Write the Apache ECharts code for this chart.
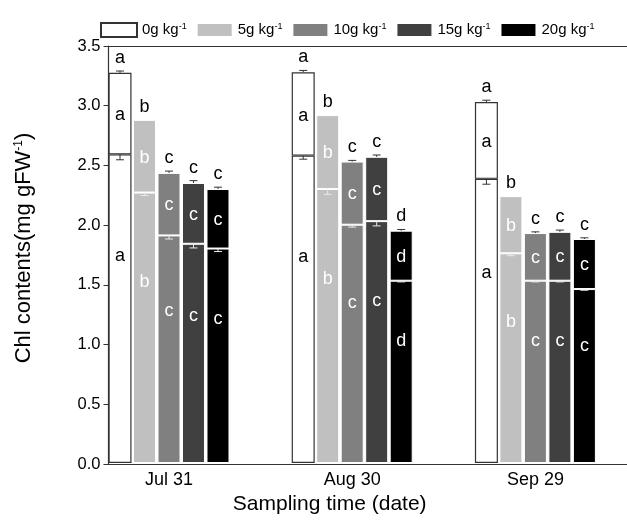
<!DOCTYPE html>
<html><head><meta charset="utf-8">
<script src="https://cdn.jsdelivr.net/npm/echarts@6/dist/echarts.min.js"></script>
<style>html,body{margin:0;padding:0;background:#fff}#c{width:627px;height:520px}</style>
</head><body><div id="c"></div>
<script>
const categories = ['Jul 31', 'Aug 30', 'Sep 29'];
const treatments = ['0g kg', '5g kg', '10g kg', '15g kg', '20g kg'];
const colors = ['#ffffff', '#c0c0c0', '#808080', '#404040', '#000000'];
// lower segment values (per treatment, per date)
const lowerValues = [
  [2.59, 2.58, 2.385],
  [2.27, 2.30, 1.76],
  [1.91, 2.00, 1.53],
  [1.84, 2.03, 1.53],
  [1.80, 1.53, 1.46]
];
// total bar heights
const totalValues = [
  [3.275, 3.28, 3.03],
  [2.88, 2.92, 2.24],
  [2.435, 2.53, 1.93],
  [2.35, 2.57, 1.94],
  [2.30, 1.95, 1.88]
];
const totalErrors = [
  [0.015, 0.015, 0.015],
  [0.0, 0.0, 0.0],
  [0.015, 0.01, 0.01],
  [0.02, 0.015, 0.015],
  [0.015, 0.01, 0.01]
];
const lowerErrors = [
  [0.045, 0.03, 0.045],
  [0.025, 0.045, 0.02],
  [0.03, 0.02, 0.01],
  [0.035, 0.04, 0.01],
  [0.025, 0.01, 0.01]
];
const topLetters = [
  ['a', 'a', 'a'],
  ['b', 'b', 'b'],
  ['c', 'c', 'c'],
  ['c', 'c', 'c'],
  ['c', 'd', 'c']
];
const upperLetters = [
  ['a', 'a', 'a'],
  ['b', 'b', 'b'],
  ['c', 'c', 'c'],
  ['c', 'c', 'c'],
  ['c', 'd', 'c']
];
const lowerLetters = [
  ['a', 'a', 'a'],
  ['b', 'b', 'b'],
  ['c', 'c', 'c'],
  ['c', 'c', 'c'],
  ['c', 'd', 'c']
];
const yTicks = { min: 0, max: 3.5, interval: 0.5 };

const FONT = 'Liberation Sans, Arial, sans-serif';
const LETTER_SIZE = 18;
const BAR_W = 23;
const GAP_RATIO = 0.065;
const PITCH = BAR_W * (1 + GAP_RATIO);

const series = [];
treatments.forEach((t, k) => {
  const border = k === 0 ? { borderColor: '#333', borderWidth: 1.2 } : { borderColor: '#fff', borderWidth: 1 };
  const txtColor = k === 0 ? '#000' : '#fff';
  series.push({
    type: 'bar', name: t, stack: 's' + k, xAxisIndex: 0, yAxisIndex: 0,
    barWidth: BAR_W, barGap: (GAP_RATIO * 100) + '%',
    itemStyle: Object.assign({ color: colors[k] }, border),
    label: {
      show: true, position: ['50%', '33%'], align: 'center', verticalAlign: 'middle',
      color: txtColor, fontSize: LETTER_SIZE, fontFamily: FONT,
      formatter: p => lowerLetters[k][p.dataIndex]
    },
    data: lowerValues[k]
  });
  series.push({
    type: 'bar', name: t, stack: 's' + k, xAxisIndex: 0, yAxisIndex: 0,
    barWidth: BAR_W, barGap: (GAP_RATIO * 100) + '%',
    itemStyle: Object.assign({ color: colors[k] }, border),
    label: {
      show: true, position: ['50%', '52%'], align: 'center', verticalAlign: 'middle',
      color: txtColor, fontSize: LETTER_SIZE, fontFamily: FONT,
      formatter: p => upperLetters[k][p.dataIndex]
    },
    data: totalValues[k].map((v, i) => +(v - lowerValues[k][i]).toFixed(4))
  });
});
treatments.forEach((t, k) => {
  series.push({
    type: 'custom', name: 'err' + k, xAxisIndex: 0, yAxisIndex: 0, z: 10,
    encode: { x: 0, y: 1 },
    data: categories.map((c, i) => [i, totalValues[k][i], totalErrors[k][i], lowerValues[k][i], lowerErrors[k][i]]),
    renderItem: (params, api) => {
      const i = api.value(0);
      const off = (k - 2) * PITCH;
      const top = api.coord([i, api.value(1)]);
      const topE = api.coord([i, api.value(1) + api.value(2)]);
      const low = api.coord([i, api.value(3)]);
      const lowE = api.coord([i, api.value(3) - api.value(4)]);
      const x = top[0] + off;
      const cap = 4;
      const lowColor = k === 0 ? '#333' : '#e8e8e8';
      const children = [];
      if (api.value(2) > 0) {
        children.push({ type: 'line', shape: { x1: x, y1: top[1], x2: x, y2: topE[1] }, style: { stroke: '#333', lineWidth: 1 } });
        children.push({ type: 'line', shape: { x1: x - cap, y1: topE[1], x2: x + cap, y2: topE[1] }, style: { stroke: '#333', lineWidth: 1 } });
      }
      children.push({ type: 'line', shape: { x1: x, y1: low[1], x2: x, y2: lowE[1] }, style: { stroke: lowColor, lineWidth: 1 } });
      children.push({ type: 'line', shape: { x1: x - cap, y1: lowE[1], x2: x + cap, y2: lowE[1] }, style: { stroke: lowColor, lineWidth: 1 } });
      children.push({
        type: 'text',
        style: { text: topLetters[k][i], x: x, y: topE[1] - 4, align: 'center', verticalAlign: 'bottom', fontSize: LETTER_SIZE, fontFamily: FONT, fill: '#000' }
      });
      return { type: 'group', children };
    }
  });
});

const chart = echarts.init(document.getElementById('c'), null, { renderer: 'canvas' });
chart.setOption({
  animation: false,
  backgroundColor: '#fff',
  textStyle: { fontFamily: FONT },
  legend: {
    data: treatments, left: 95, top: 17, itemWidth: 36, itemHeight: 14, itemGap: 9,
    icon: 'rect',
    formatter: n => '{a|' + n + '}{s|-1}',
    textStyle: {
      color: '#000', fontSize: 15, fontFamily: FONT,
      rich: { a: { fontSize: 15, fontFamily: FONT, color: '#000' }, s: { fontSize: 9, fontFamily: FONT, color: '#000', verticalAlign: 'top' } }
    }
  },
  grid: [
    { left: 77.4, width: 552.6, top: 46, height: 418 },
    { left: 108.5, width: 518.5, top: 46, height: 418 }
  ],
  xAxis: [
    {
      type: 'category', gridIndex: 0, data: categories, boundaryGap: true,
      axisLine: { show: false }, axisTick: { show: false },
      axisLabel: { color: '#000', fontSize: 18, margin: 8, fontFamily: FONT },
      name: 'Sampling time (date)', nameLocation: 'middle', nameGap: 31,
      nameTextStyle: { color: '#000', fontSize: 21, fontFamily: FONT, padding: [0, 45, 0, 0] }
    },
    {
      type: 'value', gridIndex: 1, min: 0, max: 1, position: 'bottom',
      axisLine: { show: true, lineStyle: { color: '#333', width: 1.2 } },
      axisTick: { show: false }, axisLabel: { show: false }, splitLine: { show: false }
    },
    {
      type: 'value', gridIndex: 1, min: 0, max: 1, position: 'top',
      axisLine: { show: true, lineStyle: { color: '#333', width: 1.2 } },
      axisTick: { show: false }, axisLabel: { show: false }, splitLine: { show: false }
    }
  ],
  yAxis: [
    { type: 'value', gridIndex: 0, show: false, min: yTicks.min, max: yTicks.max, interval: yTicks.interval },
    {
      type: 'value', gridIndex: 1, min: yTicks.min, max: yTicks.max, interval: yTicks.interval,
      axisLine: { show: true, lineStyle: { color: '#333', width: 1.2 } },
      axisTick: { show: true, length: 5, inside: false, lineStyle: { color: '#333' } },
      axisLabel: { color: '#000', fontSize: 16.5, margin: 8, fontFamily: FONT, formatter: v => v.toFixed(1) },
      splitLine: { show: false },
      name: '{n|Chl contents(mg gFW}{s|-1}{n|)}', nameLocation: 'middle', nameGap: 74, nameRotate: 90,
      nameTextStyle: {
        padding: [0, 0, 0, 14],
        rich: { n: { fontSize: 22, color: '#000', fontFamily: FONT }, s: { fontSize: 12, color: '#000', fontFamily: FONT, verticalAlign: 'top' } }
      }
    }
  ],
  series
});
</script></body></html>
